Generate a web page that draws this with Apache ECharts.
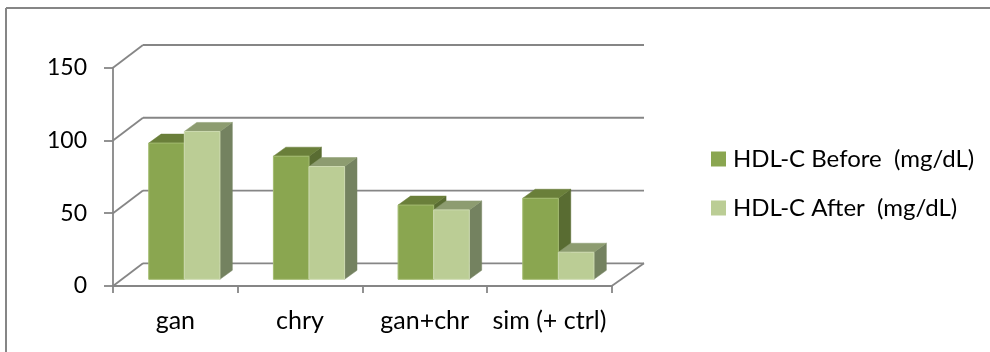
<!DOCTYPE html>
<html>
<head>
<meta charset="utf-8">
<style>html,body{margin:0;padding:0;background:#fff}#c{width:990px;height:352px}</style>
<script src="https://cdn.jsdelivr.net/npm/echarts@6/dist/echarts.min.js"></script>
</head>
<body>
<div id="c"></div>
<script>
const categories = ['gan', 'chry', 'gan+chr', 'sim (+ ctrl)'];
const hdlBefore = [93.6, 84.6, 51, 55.7];
const hdlAfter = [101.6, 77.5, 47.7, 18.6];
const yTicks = [0, 50, 100, 150];
const seriesNames = ['HDL-C Before  (mg/dL)', 'HDL-C After  (mg/dL)'];

// Oblique projection of the chart box: depth of the whole box and of a bar, in pixels.
const BOX_DX = 30, BOX_DX_RIGHT = 32.3, BOX_DY = -22.7;
const BAR_SHIFT_X = 9, BAR_SHIFT_Y = -6.7;
const BAR_DX = 12.4, BAR_DY = -9;
const BAR_BAND = 0.2855;
const AXIS = '#868686';
const LINE_W = 1.8;
const FONT = 'Lato';

const palettes = [
  { front: '#8aa650', top: '#6a7f3a', side: '#596c32', edge: '#a3bb70' },
  { front: '#bbcd95', top: '#8d9c70', side: '#748260', edge: '#cddab0' }
];

function poly(points, fill, stroke) {
  return { type: 'polygon', shape: { points }, style: { fill, stroke: stroke || fill, lineWidth: stroke ? 1 : 0.5 } };
}
function seg(x1, y1, x2, y2) {
  return { type: 'line', shape: { x1, y1, x2, y2 }, style: { stroke: AXIS, lineWidth: LINE_W } };
}

// Back wall, side wall and floor of the box.
function renderBox(params, api) {
  const v = api.value(0);
  const p = api.coord([0, v]);
  const left = p[0] - api.size([1, 0])[0] / 2;
  const right = left + api.size([1, 0])[0] * categories.length;
  const children = [
    seg(left, p[1], left + BOX_DX, p[1] + BOX_DY),
    seg(left + BOX_DX, p[1] + BOX_DY, right + BOX_DX_RIGHT, p[1] + BOX_DY)
  ];
  if (v === 0) children.push(seg(right, p[1], right + BOX_DX_RIGHT, p[1] + BOX_DY));
  return { type: 'group', children };
}

// One bar: front face, top face and right side.
function renderBar(index) {
  return function (params, api) {
    const band = api.size([1, 0])[0];
    const w = band * BAR_BAND;
    const c = api.coord([api.value(0), api.value(1)]);
    const b = api.coord([api.value(0), 0]);
    const x0 = c[0] + BAR_SHIFT_X + (index - 1) * w;
    const x1 = x0 + w;
    const yt = c[1] + BAR_SHIFT_Y;
    const yb = b[1] + BAR_SHIFT_Y;
    const pal = palettes[index];
    return {
      type: 'group',
      children: [
        poly([[x1, yt], [x1 + BAR_DX, yt + BAR_DY], [x1 + BAR_DX, yb + BAR_DY], [x1, yb]], pal.side),
        poly([[x0, yt], [x0 + BAR_DX, yt + BAR_DY], [x1 + BAR_DX, yt + BAR_DY], [x1, yt]], pal.top),
        poly([[x0, yt], [x1, yt], [x1, yb], [x0, yb]], pal.front, pal.edge)
      ]
    };
  };
}

const chart = echarts.init(document.getElementById('c'), null, { renderer: 'canvas' });
chart.setOption({
  animation: false,
  backgroundColor: '#fff',
  // Frame: only its top and left edges fall inside the canvas.
  graphic: [
    { type: 'line', silent: true, shape: { x1: 6, y1: 8, x2: 990, y2: 8 }, style: { stroke: AXIS, lineWidth: 2 } },
    { type: 'line', silent: true, shape: { x1: 6, y1: 8, x2: 6, y2: 352 }, style: { stroke: AXIS, lineWidth: 2 } }
  ],
  grid: { left: 113, top: 67.7, width: 498.7, height: 218.3 },
  xAxis: {
    type: 'category', data: categories,
    axisLine: { show: true, lineStyle: { color: AXIS, width: LINE_W } },
    axisTick: { show: true, interval: 0, length: 7, lineStyle: { color: AXIS, width: LINE_W } },
    axisLabel: { color: '#000', fontFamily: FONT, fontSize: 25, margin: 22, interval: 0, hideOverlap: false }
  },
  yAxis: {
    type: 'value', min: 0, max: 150, interval: 50,
    splitLine: { show: false },
    axisLine: { show: true, lineStyle: { color: AXIS, width: LINE_W } },
    axisTick: { show: true, length: 9, lineStyle: { color: AXIS, width: LINE_W } },
    axisLabel: { color: '#000', fontFamily: FONT, fontSize: 23, margin: 26, padding: [2, 0, 0, 0] }
  },
  legend: {
    left: 711, top: 147, orient: 'vertical', padding: 0,
    itemWidth: 15, itemHeight: 15, itemGap: 25,
    icon: 'rect',
    textStyle: { color: '#000', fontFamily: FONT, fontSize: 24, lineHeight: 22, padding: [0, 0, 0, 2] },
    data: seriesNames
  },
  series: [
    {
      type: 'custom', coordinateSystem: 'cartesian2d', silent: true,
      data: yTicks.map(v => [v]), encode: { y: 0 }, renderItem: renderBox, z: 1
    },
    {
      name: seriesNames[0], type: 'custom', renderItem: renderBar(0), z: 2,
      itemStyle: { color: palettes[0].front },
      data: categories.map((c, i) => [i, hdlBefore[i]]), encode: { x: 0, y: 1 }
    },
    {
      name: seriesNames[1], type: 'custom', renderItem: renderBar(1), z: 3,
      itemStyle: { color: palettes[1].front },
      data: categories.map((c, i) => [i, hdlAfter[i]]), encode: { x: 0, y: 1 }
    }
  ]
});
</script>
</body>
</html>
